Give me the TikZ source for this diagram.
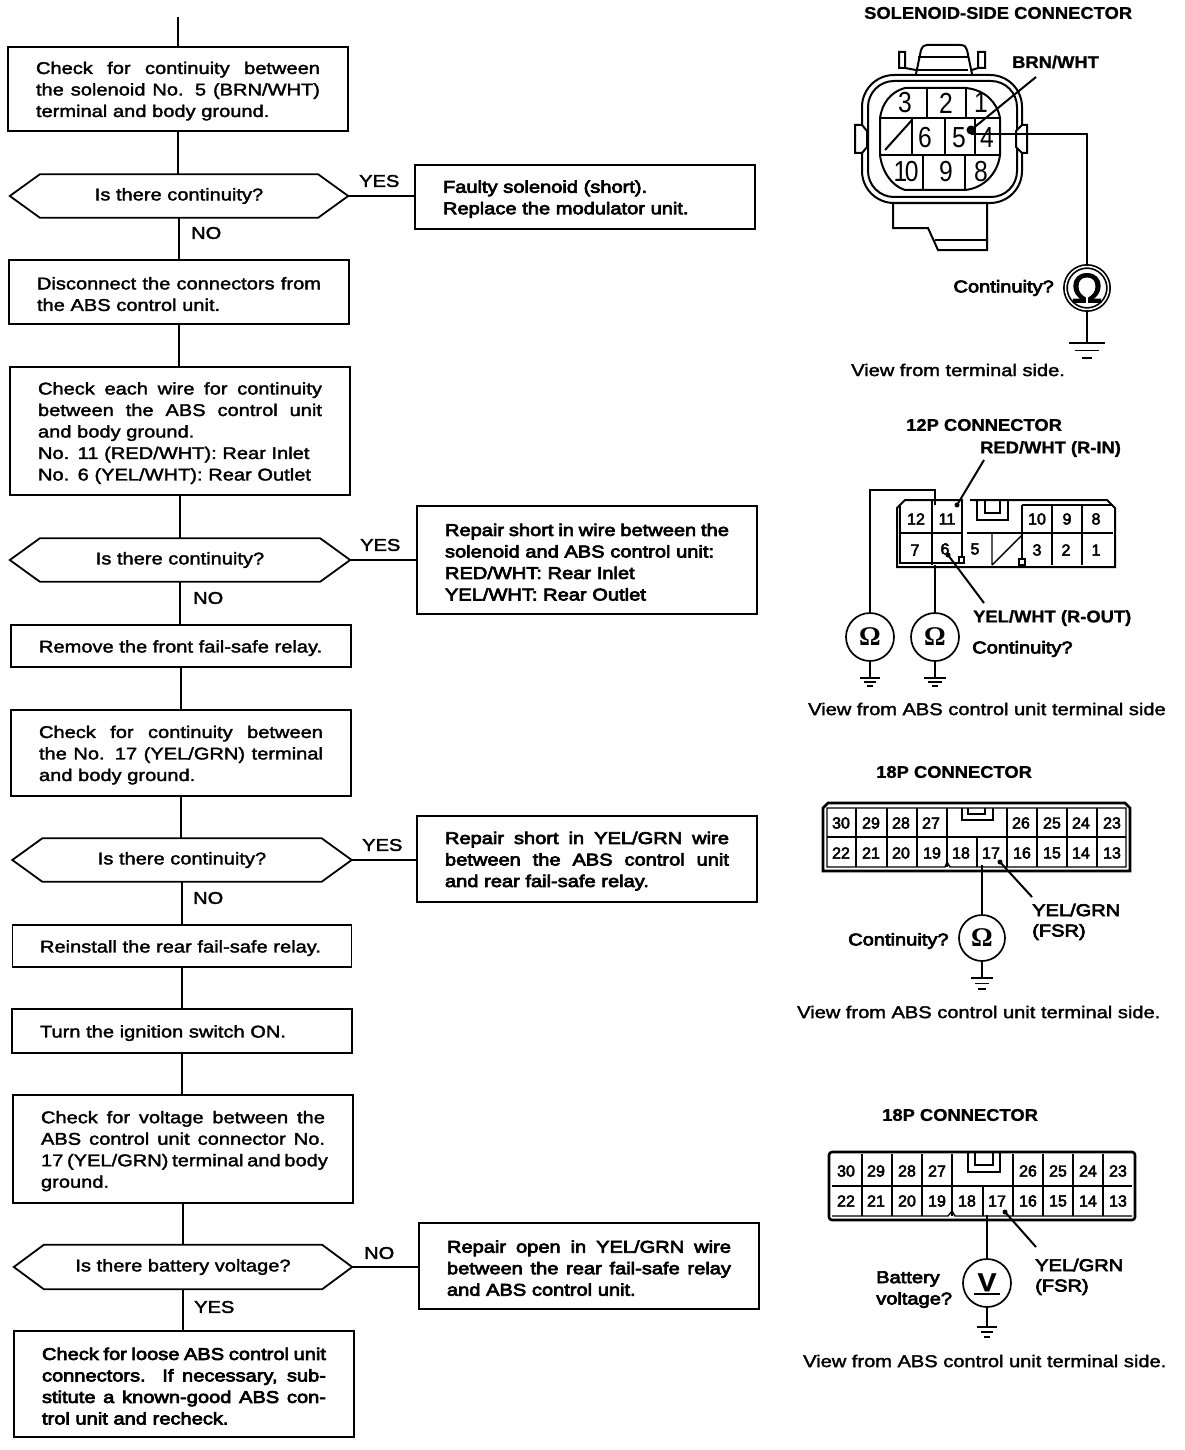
\documentclass[tikz,border=0pt]{standalone}
\usepackage{fontspec}
\setmainfont{Liberation Sans}
\newfontfamily\medf[FakeBold=2,FakeStretch=1.18]{Liberation Sans}
\newfontfamily\boldf[FakeBold=4,FakeStretch=1.18]{Liberation Sans}
\newfontfamily\heavyf[FakeBold=1,FakeStretch=1.08]{Liberation Sans Bold}
\newfontfamily\serf{Liberation Serif Bold}
\newfontfamily\pinbf[FakeBold=3]{Liberation Sans}
\newfontfamily\pinlf[FakeStretch=0.85]{Liberation Sans}
\usetikzlibrary{calc}
\newcommand{\J}[1]{\leavevmode\hbox to 284pt{\spaceskip=0pt\xspaceskip=0pt\relax #1}}
\tikzset{
  box/.style={draw,line width=1.8pt,text width=284pt,align=left,inner xsep=0pt,inner ysep=0pt,font=\fontsize{17}{21.5}\selectfont\medf,execute at begin node={\rule{0pt}{16.5pt}}},
  bbox/.style={box,font=\fontsize{17}{21.5}\selectfont\boldf},
  dtext/.style={inner sep=0pt,font=\fontsize{17}{20}\selectfont\medf},
  wire/.style={line width=1.5pt},
  flow/.style={line width=1.7pt},
  lab/.style={inner sep=0pt,anchor=west,font=\fontsize{17}{21.5}\selectfont\medf},
  blab/.style={inner sep=0pt,anchor=west,font=\fontsize{17}{21.5}\selectfont\boldf},
  ttl/.style={inner sep=0pt,anchor=west,font=\fontsize{17}{20}\selectfont\heavyf},
  pinb/.style={inner sep=0pt,font=\fontsize{16}{18}\selectfont\pinbf},
  pinl/.style={inner sep=0pt,font=\fontsize{29}{30}\selectfont\pinlf},
  meter/.style={draw,circle,line width=1.7pt,inner sep=0pt,minimum size=#1},
  conn/.style={line width=2pt},
  thinc/.style={line width=1.4pt},
  thickg/.style={line width=2.4pt},
}
\newcommand{\decis}[6]{%
  \node[dtext,minimum width=#4 pt,minimum height=#5 pt] (#1) at (#2,#3) {\raisebox{-1.5pt}{#6}};
  \draw[line width=1.8pt] (#1.west) -- ($(#1.north west)+(30,0)$) -- ($(#1.north east)+(-30,0)$) -- (#1.east)
    -- ($(#1.south east)+(-30,0)$) -- ($(#1.south west)+(30,0)$) -- cycle;
}
\newcommand{\gbars}[5]{%
  \draw[thinc] ($(#1)+(-#2,0)$) -- ($(#1)+(#2,0)$);
  \draw[thinc] ($(#1)+(-#3,#5)$) -- ($(#1)+(#3,#5)$);
  \draw[thinc] ($(#1)+(-#4,2*#5)$) -- ($(#1)+(#4,2*#5)$);
}
\newcommand{\gbarsB}[5]{%
  \draw[thickg] ($(#1)+(-#2,0)$) -- ($(#1)+(#2,0)$);
  \draw[thickg] ($(#1)+(-#3,#5)$) -- ($(#1)+(#3,#5)$);
  \draw[thickg] ($(#1)+(-#4,2*#5)$) -- ($(#1)+(#4,2*#5)$);
}
\begin{document}
\begin{tikzpicture}[x=1pt,y=-1pt]
\useasboundingbox (0,0) rectangle (1184,1450);
\fill[white] (0,0) rectangle (1184,1450);

% ---------- flow boxes
\coordinate (top) at (178,17);
\node[box,minimum width=340pt,minimum height=84pt] (B1) at (178,89) {\J{Check for continuity between}\\\J{the solenoid No. 5 (BRN/WHT)}\\terminal and body ground.};
\decis{D1}{179}{196}{338}{43}{Is there continuity?}
\node[bbox,minimum width=340pt,minimum height=64pt] (S1) at (585,197) {Faulty solenoid (short).\\Replace the modulator unit.};
\node[box,minimum width=340pt,minimum height=64pt] (B2) at (179,292) {\J{Disconnect the connectors from}\\the ABS control unit.};
\node[box,minimum width=340pt,minimum height=128pt] (B3) at (180,431) {\J{Check each wire for continuity}\\\J{between the ABS control unit}\\and body ground.\\No. 11 (RED/WHT): Rear Inlet\\No. 6 (YEL/WHT): Rear Outlet};
\decis{D2}{180}{560}{340}{43}{Is there continuity?}
\node[bbox,minimum width=340pt,minimum height=108pt] (S2) at (587,560) {\J{Repair short in wire between the}\\solenoid and ABS control unit:\\RED/WHT: Rear Inlet\\YEL/WHT: Rear Outlet};
\node[box,minimum width=340pt,minimum height=42pt] (B4) at (181,646) {Remove the front fail-safe relay.};
\node[box,minimum width=340pt,minimum height=86pt] (B5) at (181,753) {\J{Check for continuity between}\\\J{the No. 17 (YEL/GRN) terminal}\\and body ground.};
\decis{D3}{182}{860}{339}{43}{Is there continuity?}
\node[bbox,minimum width=340pt,minimum height=86pt] (S3) at (587,859) {\J{Repair short in YEL/GRN wire}\\\J{between the ABS control unit}\\and rear fail-safe relay.};
\node[box,minimum width=339pt,minimum height=42pt] (B6) at (182,946) {Reinstall the rear fail-safe relay.};
\node[box,minimum width=340pt,minimum height=44pt] (B7) at (182,1031) {Turn the ignition switch ON.};
\node[box,minimum width=340pt,minimum height=108pt] (B8) at (183,1149) {\J{Check for voltage between the}\\\J{ABS control unit connector No.}\\\J{17 (YEL/GRN) terminal and body}\\ground.};
\decis{D4}{183}{1267}{338}{44}{Is there battery voltage?}
\node[bbox,minimum width=340pt,minimum height=86pt] (S4) at (589,1266) {\J{Repair open in YEL/GRN wire}\\\J{between the rear fail-safe relay}\\and ABS control unit.};
\node[bbox,minimum width=340pt,minimum height=106pt] (B9) at (184,1384) {\J{Check for loose ABS control unit}\\\J{connectors. If necessary, sub-}\\\J{stitute a known-good ABS con-}\\trol unit and recheck.};

% ---------- flow connectors
\draw[flow] (top) -- (top |- B1.north);
\draw[flow] (B1.south) -- (B1.south |- D1.north);
\draw[flow] (D1.south) -- (D1.south |- B2.north);
\draw[flow] (B2.south) -- (B2.south |- B3.north);
\draw[flow] (B3.south) -- (B3.south |- D2.north);
\draw[flow] (D2.south) -- (D2.south |- B4.north);
\draw[flow] (B4.south) -- (B4.south |- B5.north);
\draw[flow] (B5.south) -- (B5.south |- D3.north);
\draw[flow] (D3.south) -- (D3.south |- B6.north);
\draw[flow] (B6.south) -- (B6.south |- B7.north);
\draw[flow] (B7.south) -- (B7.south |- B8.north);
\draw[flow] (B8.south) -- (B8.south |- D4.north);
\draw[flow] (D4.south) -- (D4.south |- B9.north);
\draw[line width=2.6pt] (D1.east) -- (D1.east -| S1.west);
\draw[flow] (D2.east) -- (D2.east -| S2.west);
\draw[flow] (D3.east) -- (D3.east -| S3.west);
\draw[flow] (D4.east) -- (D4.east -| S4.west);

\node[lab] (y1) at (359,181) {YES};
\node[lab] (n1) at (191,233) {NO};
\node[lab] (y2) at (360,545) {YES};
\node[lab] (n2) at (193,598) {NO};
\node[lab] (y3) at (362,845) {YES};
\node[lab] (n3) at (193,898) {NO};
\node[lab] (n4) at (364,1253) {NO};
\node[lab] (y4) at (194,1307) {YES};

% ---------- solenoid-side connector
\node[ttl] (t1) at (864,13) {SOLENOID-SIDE CONNECTOR};
\draw[conn,rounded corners=32pt] (940,75) -- (1022,75) -- (1022,203) -- (862,203) -- (862,75) -- cycle;
\draw[conn,rounded corners=26pt] (940,81) -- (1017,81) -- (1017,197) -- (868,197) -- (868,81) -- cycle;
\draw[conn,fill=white] (862,125) -- (855,125) -- (855,153) -- (862,153) -- (867,147) -- (867,131) -- cycle;
\draw[conn,fill=white] (1022,125) -- (1027,125) -- (1027,153) -- (1022,153) -- (1016,147) -- (1016,131) -- cycle;
\draw[conn] (880,118) .. controls (882,104) and (890,92) .. (905,88) -- (966,88) .. controls (985,90) and (997,102) .. (1000,118) -- (1000,155) .. controls (998,172) and (985,188) .. (965,190) -- (905,190) .. controls (892,186) and (882,172) .. (880,155) -- cycle;
\draw[conn] (880,118) -- (1000,118) (880,155) -- (1000,155);
\draw[conn] (927,88) -- (927,118) (966,88) -- (966,118);
\draw[conn] (912,118) -- (912,155) (945,118) -- (945,155) (975,118) -- (975,155);
\draw[conn] (923,155) -- (923,190) (965,155) -- (965,190);
\draw[conn] (885,150) -- (912,120);
\draw[conn,fill=white] (916,74) -- (921,50) .. controls (923,46) and (924,45) .. (927,45) -- (960,45) .. controls (965,45) and (966,47) .. (967,50) -- (972,74);
\draw[conn] (918,57) -- (968,57) (918,70) -- (968,70);
\draw[conn] (916,70) -- (905,68) -- (899,68) -- (899,52) -- (905,52) -- (905,68);
\draw[conn] (972,70) -- (978,68) -- (985,68) -- (985,52) -- (978,52) -- (978,68);
\draw[conn] (893,203) -- (893,228) -- (928,228) -- (938,250) -- (987,250) -- (987,203);
\draw[conn] (935,240) -- (987,240);
\foreach \t/\x/\y in {3/905/103,2/946/103,1/981/103,6/925/138,5/959/138,4/987/138,9/946/172,8/981/172}
  \node[pinl] (sp\t) at (\x,\y) {\t};
\node[pinl] (sp10) at (906,172) {1\kern-2.5pt 0};
\node[ttl] (brn) at (1012,62) {BRN/WHT};
\coordinate (sdot) at (971,130);
\coordinate (sld) at (1036,77);
\fill (sdot) circle (4.5pt);
\draw[conn] (sdot) -- (sld);
\node[meter=43pt,double,double distance=1.5pt,font=\fontsize{41}{41}\selectfont\pinbf] (m1) at (1087,288) {Ω};
\draw[wire] (sdot |- 0,134) -- (m1.north |- 0,134) -- (m1.north);
\coordinate (g1) at (1087,343);
\draw[wire] (m1.south) -- (g1);
\gbars{g1}{18}{12}{5}{7.5}
\node[blab,anchor=east] (c1) at (1054,288) {Continuity?};
\node[lab] (v1) at (851,370) {View from terminal side.};

% ---------- 12P connector
\node[ttl] (t2) at (906,425) {12P CONNECTOR};
\node[ttl] (rw) at (980,449) {RED/WHT (R-IN)};
\draw[conn] (963,500) -- (905,500) -- (897,508) -- (897,567) -- (1115,567) -- (1115,508) -- (1107,500) -- (970,500);
\draw[thinc] (900,506) -- (900,563) -- (962,563);
\draw[conn] (932,500) -- (932,565) (962,500) -- (962,563);
\draw[conn] (900,533) -- (962,533) (967,533) -- (1113,533);
\draw[conn] (977,500) -- (977,520) -- (1008,520) -- (1008,500);
\draw[thinc] (985,500) -- (985,513) -- (1000,513) -- (1000,500);
\draw[conn] (1022,505) -- (1022,565) (1052,505) -- (1052,565) (1082,505) -- (1082,565);
\draw[conn] (1022,505) -- (1113,505);
\draw[thinc] (992,533) -- (992,565) (992,565) -- (1022,535);
\draw[thinc,fill=white] (959,557) rectangle (964,563);
\draw[thinc,fill=white] (1019,559) rectangle (1025,565);
\foreach \t/\x/\y in {12/916/519,11/947/519,7/915/550,6/945/549,5/975/549,10/1037/519,9/1067/519,8/1096/519,3/1037/550,2/1066/550,1/1096/550}
  \node[pinb] (tp\t) at (\x,\y) {\t};
\node[meter=48pt,font=\fontsize{27}{27}\selectfont\serf] (m2) at (870,637) {Ω};
\node[meter=48pt,font=\fontsize{27}{27}\selectfont\serf] (m3) at (935,637) {Ω};
\coordinate (w2a) at (935,505);
\draw[wire] (m2.north) -- (m2.north |- 0,490) -- (w2a |- 0,490) -- (w2a);
\coordinate (w3a) at (935,565);
\draw[wire] (m3.north) -- (w3a);
\coordinate (g2) at (870,678);
\coordinate (g3) at (935,678);
\draw[wire] (m2.south) -- (g2);
\draw[wire] (m3.south) -- (g3);
\gbarsB{g2}{10}{6}{3}{4}
\gbarsB{g3}{11}{7}{3}{4}
\coordinate (l2a) at (984,460);
\coordinate (l2b) at (957,505);
\coordinate (l3a) at (984,603);
\coordinate (l3b) at (948,555);
\draw[conn] (l2a) -- (l2b);
\draw[conn] (l3a) -- (l3b);
\fill (l2b) circle (2.5pt) (l3b) circle (2.5pt);
\node[ttl] (yw) at (973,618) {YEL/WHT (R-OUT)};
\node[blab] (c2) at (972,649) {Continuity?};
\node[lab] (v2) at (808,709) {View from ABS control unit terminal side};

% ---------- 18P connector (1)
\node[ttl] (t3) at (876,772) {18P CONNECTOR};
\draw[line width=2.6pt] (823,871) -- (823,808) -- (828,803) -- (1125,803) -- (1130,808) -- (1130,871) -- cycle;
\draw[thinc] (827,808) -- (827,867) -- (945,867) -- (947,862) -- (950,867) -- (1126,867) -- (1126,808) -- cycle;
\draw[thinc] (827,837) -- (1126,837);
\foreach \x in {856,887,917,947,1007,1037,1067,1097} \draw[thinc] (\x,808) -- (\x,867);
\draw[thinc] (977,837) -- (977,867);
\draw[conn] (962,808) -- (962,820) -- (993,820) -- (993,808);
\draw[thinc] (968,808) -- (968,814) -- (985,814) -- (985,808);
\foreach \t/\x in {30/841,29/871,28/901,27/931,26/1021,25/1052,24/1081,23/1112}
  \node[pinb] (cp\t) at (\x,823) {\t};
\foreach \t/\x in {22/841,21/871,20/901,19/932,18/961,17/991,16/1022,15/1052,14/1081,13/1112}
  \node[pinb] (cp\t) at (\x,853) {\t};
\node[meter=46pt,font=\fontsize{27}{27}\selectfont\serf] (m4) at (982,938) {Ω};
\coordinate (w4) at (982,865);
\draw[wire] (m4.north) -- (w4);
\coordinate (g4) at (982,978);
\draw[wire] (m4.south) -- (g4);
\gbars{g4}{11}{7}{4}{5.5}
\coordinate (l4a) at (1032,897);
\coordinate (l4b) at (1000,862);
\draw[conn] (l4a) -- (l4b);
\fill (l4b) circle (2.5pt);
\node[blab] (yg1) at (1032,910) {YEL/GRN};
\node[blab] (fs1) at (1032,932) {(FSR)};
\node[blab] (c3) at (848,941) {Continuity?};
\node[lab] (v3) at (797,1012) {View from ABS control unit terminal side.};

% ---------- 18P connector (2)
\node[ttl] (t4) at (882,1115) {18P CONNECTOR};
\draw[line width=2.6pt,rounded corners=3pt] (829,1220) -- (829,1152) -- (1135,1152) -- (1135,1220) -- cycle;
\draw[thinc] (832,1186) -- (1132,1186);
\foreach \x in {862,892,922,952,1013,1043,1073,1103} \draw[thinc] (\x,1154) -- (\x,1216);
\draw[thinc] (983,1186) -- (983,1216);
\draw[thinc] (832,1216) -- (948,1216) -- (952,1211) -- (955,1216) -- (1132,1216);
\draw[conn] (968,1152) -- (968,1172) -- (1000,1172) -- (1000,1152);
\draw[thinc] (975,1152) -- (975,1165) -- (993,1165) -- (993,1152);
\foreach \t/\x in {30/846,29/876,28/907,27/937,26/1028,25/1058,24/1088,23/1118}
  \node[pinb] (dp\t) at (\x,1171) {\t};
\foreach \t/\x in {22/846,21/876,20/907,19/937,18/967,17/997,16/1028,15/1058,14/1088,13/1118}
  \node[pinb] (dp\t) at (\x,1201) {\t};
\node[meter=48pt,font=\fontsize{26}{26}\selectfont\heavyf] (m5) at (987,1283) {\raisebox{1.5pt}{V}};
\draw[line width=2.6pt] ($(m5.center)+(-13,11)$) -- ($(m5.center)+(13,11)$);
\coordinate (w5) at (987,1215);
\draw[conn] (m5.north) -- (w5);
\coordinate (g5) at (987,1327);
\draw[wire] (m5.south) -- (g5);
\gbars{g5}{10}{6}{3}{5}
\coordinate (l5a) at (1036,1247);
\coordinate (l5b) at (1005,1212);
\draw[conn] (l5a) -- (l5b);
\fill (l5b) circle (2.5pt);
\node[blab] (yg2) at (1035,1265) {YEL/GRN};
\node[blab] (fs2) at (1035,1287) {(FSR)};
\node[blab] (b1) at (876,1279) {Battery};
\node[blab] (b2) at (876,1300) {voltage?};
\node[lab] (v4) at (803,1361) {View from ABS control unit terminal side.};
\end{tikzpicture}
\end{document}
